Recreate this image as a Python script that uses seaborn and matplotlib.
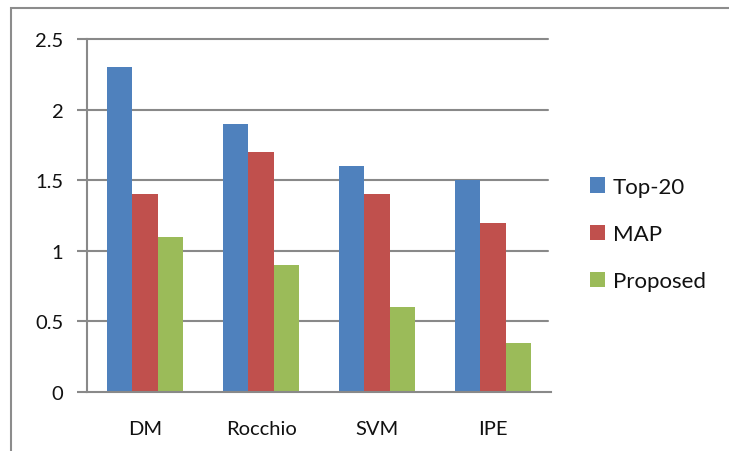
import matplotlib
matplotlib.use("Agg")
import matplotlib.pyplot as plt
from matplotlib.patches import Rectangle, Patch
import pandas as pd
import seaborn as sns

methods = ["DM", "Rocchio", "SVM", "IPE"]
series = ["Top-20", "MAP", "Proposed"]
top20 = [2.3, 1.9, 1.6, 1.5]
map_vals = [1.4, 1.7, 1.4, 1.2]
proposed = [1.1, 0.9, 0.6, 0.35]
yticks = [0, 0.5, 1, 1.5, 2, 2.5]
ytick_labels = ["0", "0.5", "1", "1.5", "2", "2.5"]
colors = ["#4F81BD", "#C0504D", "#9BBB59"]

df = pd.DataFrame({
    "method": methods * 3,
    "series": [s for s in series for _ in methods],
    "value": top20 + map_vals + proposed,
})

sns.set_style("white")
plt.rcParams["font.family"] = ["Lato", "DejaVu Sans"]

W, H = 729, 452
fig = plt.figure(figsize=(W / 100, H / 100), dpi=100)
ax = fig.add_axes([87 / W, 1 - 393 / H, (551 - 87) / W, (393 - 40) / H])

sns.barplot(data=df, x="method", y="value", hue="series", order=methods,
            hue_order=series, palette=colors, width=0.66, saturation=1,
            errorbar=None, ax=ax, legend=False, linewidth=0)

grid_c = "#898989"
ax.set_xlim(-0.5, 3.5)
ax.set_ylim(0, 2.5)
ax.set_yticks(yticks)
ax.set_yticklabels(ytick_labels)
for y in yticks[1:]:
    ax.axhline(y, xmin=0, xmax=(548 - 87) / (551 - 87), color=grid_c,
               lw=1.5, zorder=0, clip_on=False)
ax.set_axisbelow(True)

for side in ["top", "right"]:
    ax.spines[side].set_visible(False)
for side in ["left", "bottom"]:
    ax.spines[side].set_color(grid_c)
    ax.spines[side].set_linewidth(1.5)

ax.set_xticks([-0.5, 0.5, 1.5, 2.5, 3.5], minor=True)
ax.tick_params(axis="x", which="minor", direction="out", length=7,
               width=1.5, color=grid_c)
ax.tick_params(axis="x", which="major", length=0, pad=20, labelsize=14.5,
               labelcolor="#111111")
ax.tick_params(axis="y", direction="out", length=7, width=1.5,
               color=grid_c, pad=10, labelsize=14.5, left=True,
               labelcolor="#111111")
ax.set_xlabel("")
ax.set_ylabel("")

handles = [Patch(facecolor=c, edgecolor="none") for c in colors]
leg = fig.legend(handles, series, loc="center left",
                 bbox_to_anchor=(590 / W, 1 - 235 / H), frameon=False,
                 fontsize=16, handlelength=0.68, handleheight=0.68,
                 handletextpad=0.35, labelspacing=1.22,
                 borderpad=0, borderaxespad=0)
for t in leg.get_texts():
    t.set_color("#111111")

fig.patches.append(Rectangle((11 / W, -1), 2, 1 + (1 - 9 / H),
                             transform=fig.transFigure, fill=False,
                             edgecolor="#8c8c8c", lw=1.5))

fig.savefig("out.png", dpi=100)
